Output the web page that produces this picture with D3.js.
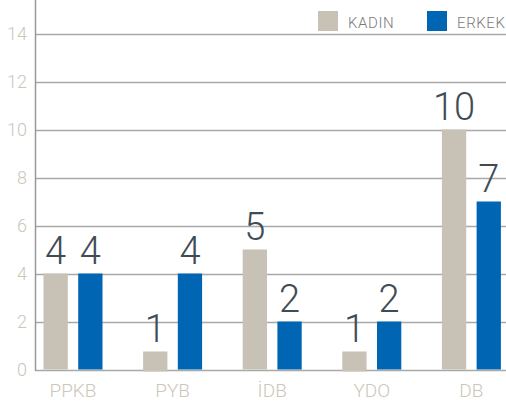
<!DOCTYPE html>
<html><head><meta charset="utf-8">
<script src="https://cdn.jsdelivr.net/npm/d3@7/dist/d3.min.js"></script>
<style>html,body{margin:0;padding:0;background:#fff;overflow:hidden}svg{display:block;font-family:Roboto,"Open Sans",sans-serif}</style>
</head><body><svg id="c" width="506" height="404"></svg>
<script>
const categories = ["PPKB", "PYB", "İDB", "YDO", "DB"];
const seriesNames = ["KADIN", "ERKEK"];
const kadin = [4, 1, 5, 1, 10];
const erkek = [4, 4, 2, 2, 7];
// bar heights as drawn in the picture (the "1" bars are drawn shorter)
const kadinBar = [4, 0.75, 5, 0.75, 10];
const erkekBar = [4, 4, 2, 2, 7];
const yTicks = [0, 2, 4, 6, 8, 10, 12, 14];
const colors = ["#c8c1b6", "#0066b3"];

const svg = d3.select("#c");
const y = d3.scaleLinear().domain([0, 14]).range([369.5, 33.5]);
const x0 = d3.scaleBand().domain(categories).range([23.2, 521.2]).padding(0);
const groupW = 59;
const x1 = d3.scaleBand().domain(seriesNames).range([0, groupW]).paddingInner(0.3);
const axisX = 35;

// gridlines
svg.append("g").selectAll("line").data(yTicks).join("line")
  .attr("x1", axisX).attr("x2", 506)
  .attr("y1", d => Math.round(y(d)) + 0.5).attr("y2", d => Math.round(y(d)) + 0.5)
  .attr("stroke", "#a9a9a9").attr("stroke-width", 1.5);

// y axis line
svg.append("line").attr("x1", axisX + 0.5).attr("x2", axisX + 0.5).attr("y1", 0).attr("y2", 371)
  .attr("stroke", "#999").attr("stroke-width", 1.5);

// y tick labels
svg.append("g").selectAll("text").data(yTicks).join("text")
  .attr("x", 27).attr("y", d => y(d)).attr("dy", "0.36em")
  .attr("text-anchor", "end").attr("fill", "#cdc6bb")
  .attr("font-size", 18).attr("font-weight", 300)
  .text(d => d);

const rows = categories.map((c, i) => ({
  cat: c,
  vals: [
    {s: "KADIN", v: kadin[i], b: kadinBar[i], col: colors[0]},
    {s: "ERKEK", v: erkek[i], b: erkekBar[i], col: colors[1]}
  ]
}));

const groups = svg.append("g").selectAll("g").data(rows).join("g")
  .attr("transform", d => `translate(${x0(d.cat) + (x0.bandwidth() - groupW) / 2},0)`);

groups.selectAll("rect").data(d => d.vals).join("rect")
  .attr("x", d => x1(d.s)).attr("width", x1.bandwidth())
  .attr("y", d => y(d.b)).attr("height", d => y(0) - y(d.b) + (d.b < 1 ? 2 : 0))
  .attr("fill", d => d.col);

groups.selectAll("text").data(d => d.vals).join("text")
  .attr("x", d => x1(d.s) + x1.bandwidth() / 2)
  .attr("y", d => y(d.b) - 10)
  .attr("text-anchor", "middle").attr("fill", "#3f4c56")
  .attr("font-size", 38).attr("font-weight", 300)
  .text(d => d.v);

// category labels
svg.append("g").selectAll("text").data(categories).join("text")
  .attr("x", d => x0(d) + x0.bandwidth() / 2).attr("y", 397)
  .attr("text-anchor", "middle").attr("fill", "#cdc6bb")
  .attr("font-size", 19).attr("font-weight", 300)
  .text(d => d);

// legend
const legX = [318, 427];
const leg = svg.append("g").selectAll("g").data(seriesNames).join("g")
  .attr("transform", (d, i) => `translate(${legX[i]},11)`);
leg.append("rect").attr("width", 20).attr("height", 20).attr("fill", (d, i) => colors[i]);
leg.append("text").attr("x", 30).attr("y", 17).attr("fill", "#7a7a7a")
  .attr("font-size", 15).attr("font-weight", 300).attr("letter-spacing", 0.6).text(d => d);
</script></body></html>
